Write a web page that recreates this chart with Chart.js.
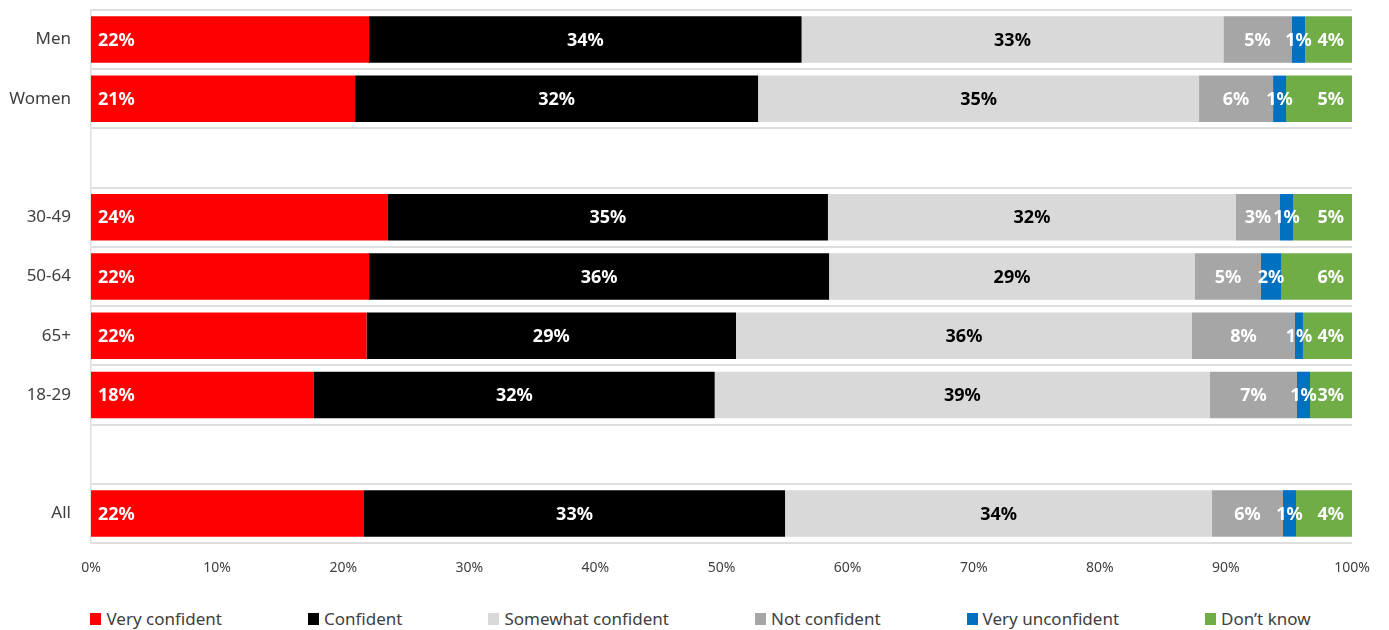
<!DOCTYPE html>
<html>
<head>
<meta charset="utf-8">
<title>Confidence by group</title>
<script src="https://cdn.jsdelivr.net/npm/chart.js@4.4.1/dist/chart.umd.min.js"></script>
<style>
  body { margin: 0; background: #fff; font-family: "Noto Sans", sans-serif; }
  #wrap { position: relative; width: 1389px; height: 585px; }
  #legend {
    display: flex; justify-content: center; align-items: center;
    width: 1389px; margin-top: 23px; padding-left: 12px; box-sizing: border-box;
    font-size: 17px; color: #404040; line-height: 22px;
  }
  #legend .item { display: flex; align-items: center; margin-right: 86px; white-space: nowrap; }
  #legend .item:last-child { margin-right: 0; }
  #legend .box { width: 11px; height: 12px; margin-right: 5px; }
</style>
</head>
<body>
<div id="wrap"><canvas id="chart" width="1389" height="585"></canvas></div>
<div id="legend"></div>
<script>
// 分组（空字符串为分隔行）
const categories = ['Men', 'Women', '', '30-49', '50-64', '65+', '18-29', '', 'All'];

// 各选项占比（%）
const veryConfident     = [22.05, 20.94, null, 23.55, 22.05, 21.85, 17.68, null, 21.65];
const confident         = [34.30, 31.96, null, 34.89, 36.48, 29.30, 31.78, null, 33.39];
const somewhatConfident = [33.45, 34.97, null, 32.36, 29.02, 36.16, 39.28, null, 33.86];
const notConfident      = [5.40, 5.87, null, 3.49, 5.23, 8.17, 6.90, null, 5.63];
const veryUnconfident   = [1.10, 1.03, null, 1.03, 1.59, 0.63, 1.03, null, 1.03];
const dontKnow          = [3.70, 5.23, null, 4.68, 5.63, 3.89, 3.33, null, 4.44];

// 横轴刻度
const xTicks = [0, 10, 20, 30, 40, 50, 60, 70, 80, 90, 100];

const seriesNames = ['Very confident', 'Confident', 'Somewhat confident', 'Not confident', 'Very unconfident', 'Don\u2019t know'];
const seriesData = [veryConfident, confident, somewhatConfident, notConfident, veryUnconfident, dontKnow];
const seriesColors = ['#ff0000', '#000000', '#d9d9d9', '#a6a6a6', '#0070c0', '#70ad47'];
const labelColors = ['#ffffff', '#ffffff', '#000000', '#ffffff', '#ffffff', '#ffffff'];
const labelAligns = ['start', 'center', 'center', 'center', 'center', 'end'];

// 在每段柱子上写百分比
const segmentLabels = {
  id: 'segmentLabels',
  afterDatasetsDraw(chart) {
    const ctx = chart.ctx;
    ctx.save();
    ctx.font = 'bold 18px "Noto Sans"';
    ctx.textBaseline = 'middle';
    chart.data.datasets.forEach((ds, di) => {
      const meta = chart.getDatasetMeta(di);
      meta.data.forEach((bar, i) => {
        const v = ds.data[i];
        if (v == null) return;
        const text = Math.round(v) + '%';
        const left = Math.min(bar.base, bar.x);
        const right = Math.max(bar.base, bar.x);
        ctx.fillStyle = ds.labelColor;
        if (ds.labelAlign === 'start') {
          ctx.textAlign = 'left';
          ctx.fillText(text, left + 7, bar.y + 1);
        } else if (ds.labelAlign === 'end') {
          ctx.textAlign = 'right';
          ctx.fillText(text, right - 8, bar.y + 1);
        } else {
          ctx.textAlign = 'center';
          ctx.fillText(text, (left + right) / 2, bar.y + 1);
        }
      });
    });
    ctx.restore();
  }
};

const datasets = seriesNames.map((name, i) => ({
  label: name,
  data: seriesData[i],
  backgroundColor: seriesColors[i],
  borderWidth: 0,
  barPercentage: 1,
  categoryPercentage: 0.785,
  labelColor: labelColors[i],
  labelAlign: labelAligns[i]
}));

const chart = new Chart(document.getElementById('chart'), {
  type: 'bar',
  data: { labels: categories, datasets },
  options: {
    indexAxis: 'y',
    responsive: false,
    animation: false,
    devicePixelRatio: 1,
    layout: { padding: { top: 10, right: 37, left: 0, bottom: 0 } },
    scales: {
      x: {
        stacked: true,
        min: 0,
        max: 100,
        afterBuildTicks: (scale) => { scale.ticks = xTicks.map(v => ({ value: v })); },
        afterFit: (scale) => { scale.height = 42; },
        ticks: {
          callback: (v) => v + '%',
          font: { family: '"Noto Sans"', size: 14 },
          color: '#404040',
          padding: 9,
          maxRotation: 0
        },
        grid: { display: false },
        border: { display: false }
      },
      y: {
        stacked: true,
        afterFit: (scale) => {
          scale.width = 91;
          scale.paddingTop = 0;
          scale.paddingBottom = 0;
        },
        ticks: {
          font: { family: '"Noto Sans"', size: 17 },
          color: '#404040',
          padding: 20
        },
        grid: { color: '#dedede', lineWidth: 2, offset: true, drawTicks: false },
        border: { display: true, color: '#dedede', width: 1.5 }
      }
    },
    plugins: {
      legend: { display: false },
      tooltip: { enabled: false }
    }
  },
  plugins: [segmentLabels]
});

// 图例
const legendEl = document.getElementById('legend');
chart.data.datasets.forEach(ds => {
  const item = document.createElement('div');
  item.className = 'item';
  const box = document.createElement('span');
  box.className = 'box';
  box.style.background = ds.backgroundColor;
  const txt = document.createElement('span');
  txt.textContent = ds.label;
  item.appendChild(box);
  item.appendChild(txt);
  legendEl.appendChild(item);
});
</script>
</body>
</html>
